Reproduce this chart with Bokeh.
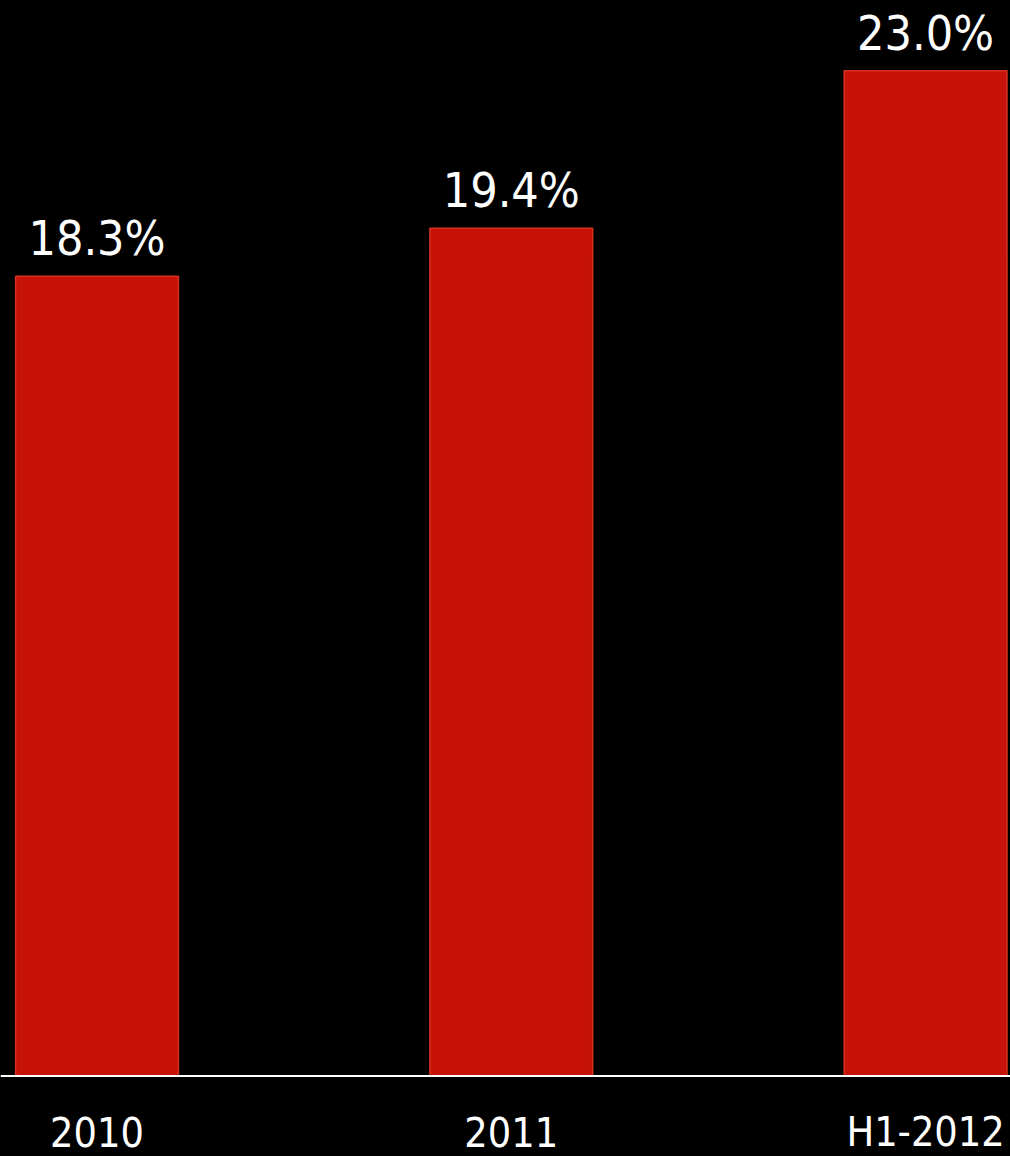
from bokeh.plotting import figure
from bokeh.models import ColumnDataSource, Range1d, Span
from bokeh.core.properties import value
from bokeh.embed import file_html
from bokeh.resources import INLINE

categories = ["2010", "2011", "H1-2012"]
shares = [18.3, 19.4, 23.0]
labels = ["18.3%", "19.4%", "23.0%"]

xs = list(range(len(categories)))
src = ColumnDataSource(dict(x=xs, top=shares, label=labels, cat=categories,
                            zero=[0] * len(xs)))

FONT = "DejaVu Sans Condensed"

p = figure(width=1010, height=1156, output_backend="svg", toolbar_location=None,
           x_range=Range1d(-0.233, 2.205), y_range=Range1d(-1.842, 24.61),
           x_axis_location=None, y_axis_location=None,
           min_border_left=0, min_border_right=0,
           min_border_top=0, min_border_bottom=0)
p.background_fill_color = "black"
p.border_fill_color = "black"
p.outline_line_color = None
p.xgrid.visible = False
p.ygrid.visible = False

p.vbar(x="x", top="top", bottom=0, width=0.393, source=src,
       fill_color="#C61208", line_color="#D8301E", line_width=1.5)

# baseline (category axis line)
p.add_layout(Span(location=0, dimension="width", line_color="white", line_width=2))

# value labels
p.text(x="x", y="top", text="label", source=src, text_align="center",
       text_baseline="alphabetic", y_offset=-38, text_color="white",
       text_font=value(FONT), text_font_size="48px")

# category labels
p.text(x="x", y="zero", text="cat", source=src, text_align="center",
       text_baseline="alphabetic", y_offset=56, text_color="white",
       text_font=value(FONT), text_font_size="41px")

html = file_html(p, INLINE)
html = html.replace("<head>", "<head><style>html,body{background:#000;margin:0;padding:0}</style>", 1)
open("out.html", "w").write(html)
